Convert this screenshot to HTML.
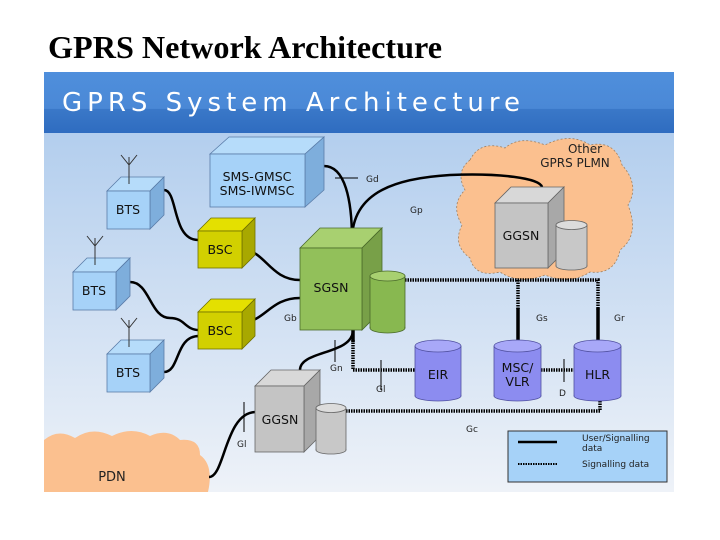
<!DOCTYPE html>
<html><head><meta charset="utf-8"><style>
html,body{margin:0;padding:0;background:#fff;width:720px;height:540px;overflow:hidden}
svg{display:block}
</style></head><body>
<svg width="720" height="540" viewBox="0 0 720 540" xmlns="http://www.w3.org/2000/svg" font-family="'DejaVu Sans', 'Liberation Sans', sans-serif">
<defs>
<linearGradient id="bg" x1="0" y1="0" x2="0" y2="1"><stop offset="0" stop-color="#a9c8ec"/><stop offset="1" stop-color="#eef2f8"/></linearGradient>
<linearGradient id="hd" x1="0" y1="0" x2="0" y2="1"><stop offset="0" stop-color="#4f8fdc"/><stop offset="0.6" stop-color="#4a88d6"/><stop offset="0.61" stop-color="#3a78c8"/><stop offset="1" stop-color="#2f6cc0"/></linearGradient>
</defs>
<text x="48" y="58" font-family="'Liberation Serif', serif" font-weight="bold" font-size="32" fill="#000" textLength="394" lengthAdjust="spacingAndGlyphs">GPRS Network Architecture</text>
<rect x="44" y="72" width="630" height="420" fill="url(#bg)"/>
<rect x="44" y="72" width="630" height="61" fill="url(#hd)"/>
<text x="62" y="111" font-size="26" fill="#fff" textLength="458" lengthAdjust="spacing">GPRS System Architecture</text>

<!-- clouds -->
<path d="M470 160 Q480 140 505 148 Q520 135 545 145 Q570 132 590 145 Q615 140 622 165 Q640 185 628 205 Q640 235 620 250 Q615 275 590 272 Q570 285 545 275 Q520 285 500 272 Q475 278 470 258 Q452 245 462 225 Q450 205 465 190 Q455 172 470 160 Z" fill="#fbc08f" stroke="#a08060" stroke-dasharray="2 2" stroke-width="0.8"/>
<text x="585" y="153" font-size="12" fill="#222" text-anchor="middle">Other</text>
<text x="575" y="167" font-size="12" fill="#222" text-anchor="middle">GPRS PLMN</text>
<path d="M44 440 Q58 428 75 438 Q92 426 112 436 Q132 426 150 436 Q168 428 180 440 Q200 438 200 455 Q214 465 208 492 L44 492 Z" fill="#fbc08f"/>
<text x="112" y="481" font-size="13" fill="#222" text-anchor="middle">PDN</text>

<!-- connectors solid -->
<g fill="none" stroke="#000" stroke-width="2.5">
<path d="M164 190 C178 190 172 240 198 240"/>
<path d="M130 282 C150 282 150 318 170 318 C185 318 185 330 199 330"/>
<path d="M164 372 C180 372 175 336 199 336"/>
<path d="M243 250 C265 250 270 280 300 280"/>
<path d="M243 322 C265 322 270 298 300 298"/>
<path d="M324 166 C345 166 352 200 352 240"/>
<path d="M352 240 C352 190 400 178 450 175 C500 173 540 178 542 187"/>
<path d="M353 330 C353 355 300 350 300 370"/>
<path d="M209 477 C225 477 225 412 256 412"/>
</g>
<g fill="none" stroke="#000" stroke-width="3.5" stroke-dasharray="1.5 1">
<path d="M353 340 L353 370 L415 370"/>
<path d="M346 411 L600 411 L600 400"/>
<path d="M405 280 L598 280 L598 310"/>
<path d="M518 280 L518 310"/>
<path d="M541 370 L574 370"/>
</g>
<path d="M353 330 L353 342" stroke="#000" stroke-width="3.5"/>
<path d="M518 308 L518 340" stroke="#000" stroke-width="3.5"/>
<path d="M598 308 L598 340" stroke="#000" stroke-width="3.5"/>
<g stroke="#000" stroke-width="1">
<path d="M335 178 L358 178"/><path d="M335 340 L335 362"/><path d="M381 360 L381 390"/><path d="M564 359 L564 382"/><path d="M244 402 L244 432"/>
</g>
<g font-size="9" fill="#222">
<text x="366" y="182">Gd</text><text x="410" y="213">Gp</text><text x="284" y="321">Gb</text><text x="330" y="371">Gn</text><text x="376" y="392">Gl</text><text x="536" y="321">Gs</text><text x="614" y="321">Gr</text><text x="559" y="396">D</text><text x="466" y="432">Gc</text><text x="237" y="447">Gl</text>
</g>

<g stroke="#5a7ca8" stroke-width="0.8">
<polygon points="210,154 229,137 324,137 305,154" fill="#b6dcfa"/><polygon points="305,154 324,137 324,190 305,207" fill="#7eaedc"/><rect x="210" y="154" width="95" height="53" fill="#a6d2f8"/>
<polygon points="107,191 121,177 164,177 150,191" fill="#b6dcfa"/><polygon points="150,191 164,177 164,215 150,229" fill="#7eaedc"/><rect x="107" y="191" width="43" height="38" fill="#a6d2f8"/>
<polygon points="73,272 87,258 130,258 116,272" fill="#b6dcfa"/><polygon points="116,272 130,258 130,296 116,310" fill="#7eaedc"/><rect x="73" y="272" width="43" height="38" fill="#a6d2f8"/>
<polygon points="107,354 121,340 164,340 150,354" fill="#b6dcfa"/><polygon points="150,354 164,340 164,378 150,392" fill="#7eaedc"/><rect x="107" y="354" width="43" height="38" fill="#a6d2f8"/>
</g>
<g stroke="#707000" stroke-width="0.8">
<polygon points="198,231 211,218 255,218 242,231" fill="#e4e000"/><polygon points="242,231 255,218 255,255 242,268" fill="#a8a800"/><rect x="198" y="231" width="44" height="37" fill="#d2d000"/>
<polygon points="198,312 211,299 255,299 242,312" fill="#e4e000"/><polygon points="242,312 255,299 255,336 242,349" fill="#a8a800"/><rect x="198" y="312" width="44" height="37" fill="#d2d000"/>
</g>
<g stroke="#4a6a2a" stroke-width="0.8">
<polygon points="300,248 320,228 382,228 362,248" fill="#a8d070"/><polygon points="362,248 382,228 382,310 362,330" fill="#78a048"/><rect x="300" y="248" width="62" height="82" fill="#92c05a"/>
<rect x="370" y="276" width="35" height="52" fill="#88b850"/><ellipse cx="387.5" cy="328" rx="17.5" ry="5" fill="#88b850"/><rect x="370.5" y="277" width="34" height="50" fill="#88b850" stroke="none"/><ellipse cx="387.5" cy="276" rx="17.5" ry="5" fill="#a8d070"/>
</g>
<g stroke="#666" stroke-width="0.8">
<polygon points="495,203 511,187 564,187 548,203" fill="#d8d8d8"/><polygon points="548,203 564,187 564,252 548,268" fill="#a8a8a8"/><rect x="495" y="203" width="53" height="65" fill="#c4c4c4"/>
<rect x="556" y="225" width="31" height="41" fill="#c8c8c8"/><ellipse cx="571.5" cy="266" rx="15.5" ry="4" fill="#c8c8c8"/><rect x="556.5" y="226" width="30" height="40" fill="#c8c8c8" stroke="none"/><ellipse cx="571.5" cy="225" rx="15.5" ry="4.5" fill="#dcdcdc"/>
<polygon points="255,386 271,370 320,370 304,386" fill="#d8d8d8"/><polygon points="304,386 320,370 320,436 304,452" fill="#a8a8a8"/><rect x="255" y="386" width="49" height="66" fill="#c4c4c4"/>
<rect x="316" y="408" width="30" height="42" fill="#c8c8c8"/><ellipse cx="331" cy="450" rx="15" ry="4" fill="#c8c8c8"/><rect x="316.5" y="409" width="29" height="41" fill="#c8c8c8" stroke="none"/><ellipse cx="331" cy="408" rx="15" ry="4.5" fill="#dcdcdc"/>
</g>
<g stroke="#5050a0" stroke-width="0.8">
<rect x="415" y="346" width="46" height="50" fill="#8c8cf0"/><ellipse cx="438" cy="396" rx="23" ry="5" fill="#8c8cf0"/><rect x="415.5" y="347" width="45" height="49" fill="#8c8cf0" stroke="none"/><ellipse cx="438" cy="346" rx="23" ry="6" fill="#a8a8f8"/>
<rect x="494" y="346" width="47" height="50" fill="#8c8cf0"/><ellipse cx="517.5" cy="396" rx="23.5" ry="5" fill="#8c8cf0"/><rect x="494.5" y="347" width="46" height="49" fill="#8c8cf0" stroke="none"/><ellipse cx="517.5" cy="346" rx="23.5" ry="6" fill="#a8a8f8"/>
<rect x="574" y="346" width="47" height="50" fill="#8c8cf0"/><ellipse cx="597.5" cy="396" rx="23.5" ry="5" fill="#8c8cf0"/><rect x="574.5" y="347" width="46" height="49" fill="#8c8cf0" stroke="none"/><ellipse cx="597.5" cy="346" rx="23.5" ry="6" fill="#a8a8f8"/>
</g>
<g stroke="#333" stroke-width="1" fill="none">
<path d="M129 184 L129 157 M121 155 L129 165 L137 155"/>
<path d="M95 265 L95 238 M87 236 L95 246 L103 236"/>
<path d="M129 347 L129 320 M121 318 L129 328 L137 318"/>
</g>
<g font-size="12.5" fill="#111" text-anchor="middle">
<text x="257" y="181">SMS-GMSC</text><text x="257" y="195">SMS-IWMSC</text>
<text x="128" y="214">BTS</text><text x="94" y="295">BTS</text><text x="128" y="377">BTS</text>
<text x="220" y="254">BSC</text><text x="220" y="335">BSC</text>
<text x="331" y="292">SGSN</text>
<text x="521" y="240">GGSN</text><text x="280" y="424">GGSN</text>
<text x="438" y="379">EIR</text><text x="517.5" y="372">MSC/</text><text x="517.5" y="386">VLR</text><text x="597.5" y="379">HLR</text>
</g>
<rect x="508" y="431" width="159" height="51" fill="#a6d2f8" stroke="#333" stroke-width="1"/>
<path d="M518 442 L557 442" stroke="#000" stroke-width="2.5"/>
<path d="M518 464 L557 464" stroke="#000" stroke-width="2" stroke-dasharray="1.5 1"/>
<g font-size="9" fill="#222"><text x="582" y="441">User/Signalling</text><text x="582" y="451">data</text><text x="582" y="467">Signalling data</text></g>
</svg>
</body></html>
